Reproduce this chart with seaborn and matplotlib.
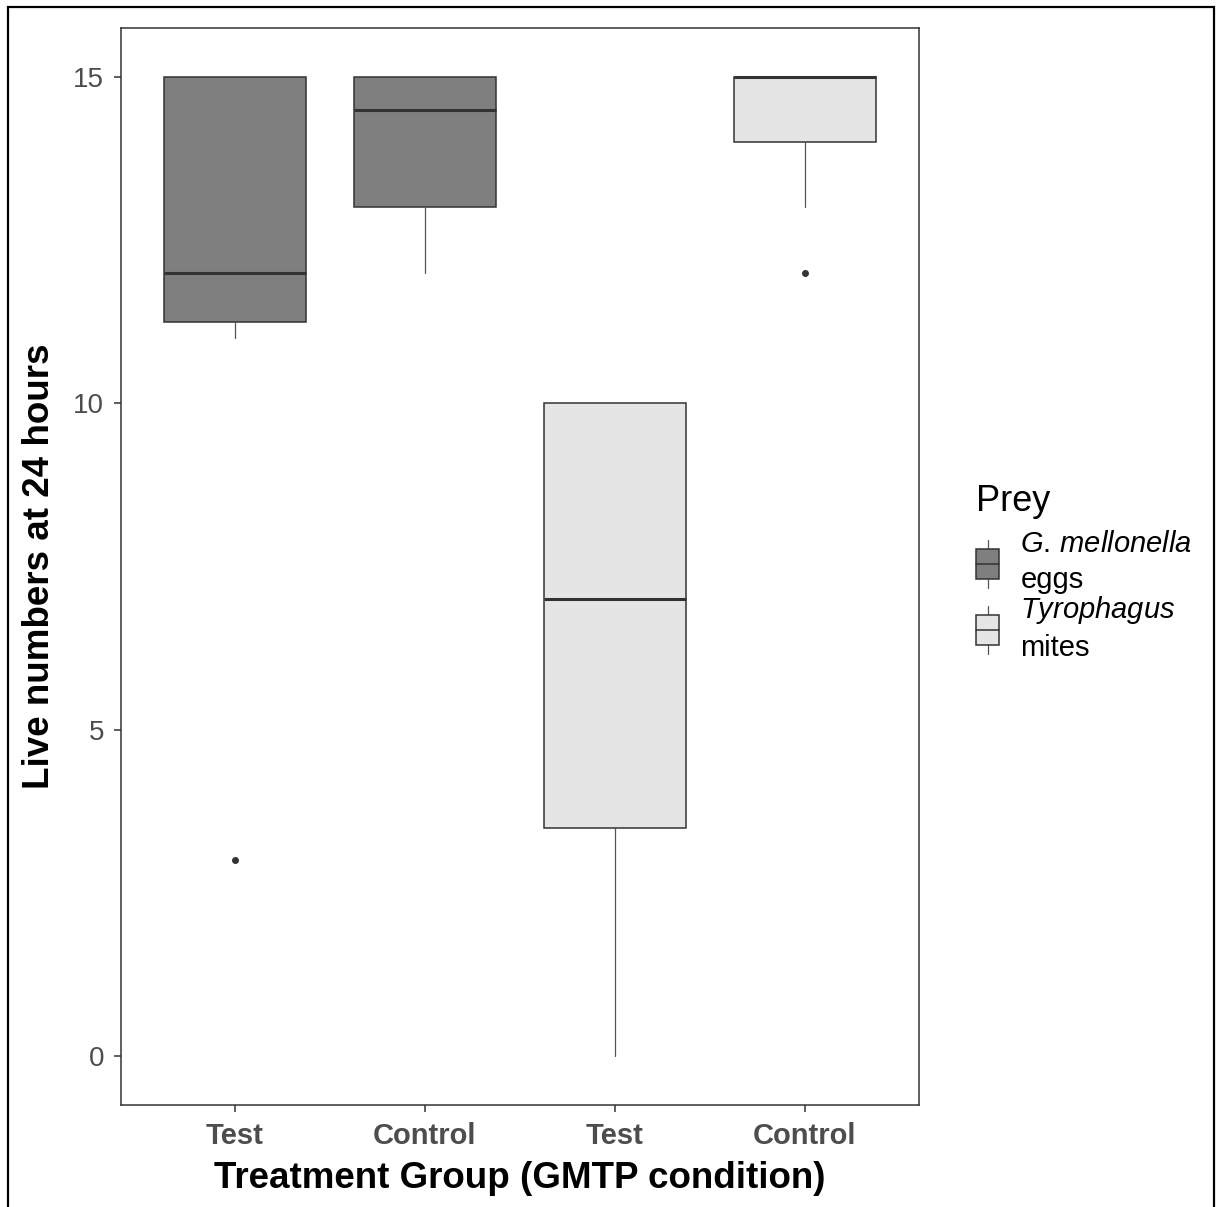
import matplotlib
matplotlib.use("Agg")
import matplotlib.pyplot as plt
import seaborn as sns
from matplotlib.patches import Rectangle, Patch
from matplotlib.lines import Line2D
from matplotlib.legend_handler import HandlerBase

# ---- data (box statistics) ----
groups = ["Test", "Control", "Test", "Control"]
prey = ["eggs", "eggs", "mites", "mites"]
whislo = [11, 12, 0, 13]
q1 = [11.25, 13, 3.5, 14]
med = [12, 14.5, 7, 15]
q3 = [15, 15, 10, 15]
whishi = [15, 15, 10, 15]
fliers = [[3], [], [], [12]]
yticks = [0, 5, 10, 15]
prey_levels = ["eggs", "mites"]
prey_italic = ["G.\\,mellonella", "Tyrophagus"]
prey_plain = ["eggs", "mites"]
prey_colors = ["#7f7f7f", "#e5e5e5"]

sns.set_theme(style="white")
plt.rcParams["font.family"] = ["Liberation Sans", "DejaVu Sans"]
plt.rcParams["mathtext.fontset"] = "custom"
plt.rcParams["mathtext.it"] = "Liberation Sans:italic"
plt.rcParams["mathtext.rm"] = "Liberation Sans"
plt.rcParams["mathtext.default"] = "regular"

EDGE = "#333333"
W, H = 1221, 1207
fig = plt.figure(figsize=(W / 100, H / 100), dpi=100)
ax = fig.add_axes([121 / W, 1 - 1105 / H, 798 / W, 1077 / H])

color_map = dict(zip(prey_levels, prey_colors))
stats = []
for i in range(len(groups)):
    stats.append(dict(whislo=whislo[i], q1=q1[i], med=med[i], q3=q3[i],
                      whishi=whishi[i], fliers=fliers[i], label=groups[i]))
positions = list(range(len(groups)))
bp = ax.bxp(stats, positions=positions, widths=0.75, patch_artist=True,
            showcaps=False, manage_ticks=False,
            boxprops=dict(edgecolor=EDGE, linewidth=1.1),
            medianprops=dict(color=EDGE, linewidth=2.2, solid_capstyle="butt"),
            whiskerprops=dict(color="#555555", linewidth=0.9),
            flierprops=dict(marker="o", markersize=4, markerfacecolor=EDGE,
                            markeredgecolor=EDGE, linestyle="none"))
for box, p in zip(bp["boxes"], prey):
    box.set_facecolor(color_map[p])

ax.set_xlim(-0.6, 3.6)
ax.set_ylim(-0.75, 15.75)
ax.set_xticks(positions)
ax.set_xticklabels(groups, fontsize=21, fontweight="bold", color="#4d4d4d")
ax.set_yticks(yticks)
ax.set_yticklabels([str(v) for v in yticks], fontsize=20, color="#4d4d4d")
ax.tick_params(axis="both", which="both", length=5, width=1.1, color=EDGE,
               bottom=True, left=True)
ax.tick_params(axis="x", pad=7)
ax.tick_params(axis="y", pad=7)
for s in ax.spines.values():
    s.set_visible(True)
    s.set_color(EDGE)
    s.set_linewidth(1.1)
ax.grid(False)
ax.set_facecolor("white")

ax.set_xlabel("Treatment Group (GMTP condition)", fontsize=26.5,
              fontweight="bold", color="black", labelpad=8)
ax.set_ylabel("Live numbers at 24 hours", fontsize=26.5,
              fontweight="bold", color="black", labelpad=12)


class BoxKeyHandler(HandlerBase):
    def create_artists(self, legend, orig_handle, xdescent, ydescent,
                       width, height, fontsize, trans):
        fc = orig_handle.get_facecolor()
        x0 = -xdescent
        y0 = -ydescent
        cx = x0 + width / 2
        lo, hi = y0 + height * 0.19, y0 + height * 0.81
        w1 = Line2D([cx, cx], [y0, lo], color="#555555", lw=0.9, transform=trans)
        w2 = Line2D([cx, cx], [hi, y0 + height], color="#555555", lw=0.9, transform=trans)
        r = Rectangle((x0, lo), width, hi - lo, facecolor=fc, edgecolor=EDGE,
                      lw=1.1, transform=trans)
        m = Line2D([x0, x0 + width], [y0 + height / 2] * 2, color=EDGE,
                   lw=1.1, transform=trans)
        return [w1, w2, r, m]


handles = [Patch(facecolor=c) for c in prey_colors]
labels = ["$\\it{" + it + "}$\n" + pl for it, pl in zip(prey_italic, prey_plain)]
leg = fig.legend(handles, labels, handler_map={Patch: BoxKeyHandler()},
                 loc="upper left", bbox_to_anchor=(976 / W, 1 - 484 / H),
                 frameon=False, fontsize=21, title="Prey", title_fontsize=26,
                 handlelength=0.8, handleheight=2.15, handletextpad=0.72,
                 labelspacing=0.0, borderpad=0, borderaxespad=0,
                 alignment="left")
for t in leg.get_texts():
    t.set_linespacing(1.36)
    t.set_color("black")
leg.get_title().set_color("black")
leg._legend_box.sep = 8

border = Rectangle((8 / W, -0.02), (1214 - 8) / W, 1.02 - 7 / H,
                   transform=fig.transFigure, fill=False, edgecolor="black",
                   linewidth=1.6, clip_on=False)
fig.add_artist(border)

fig.savefig("out.png", dpi=100, facecolor="white")
